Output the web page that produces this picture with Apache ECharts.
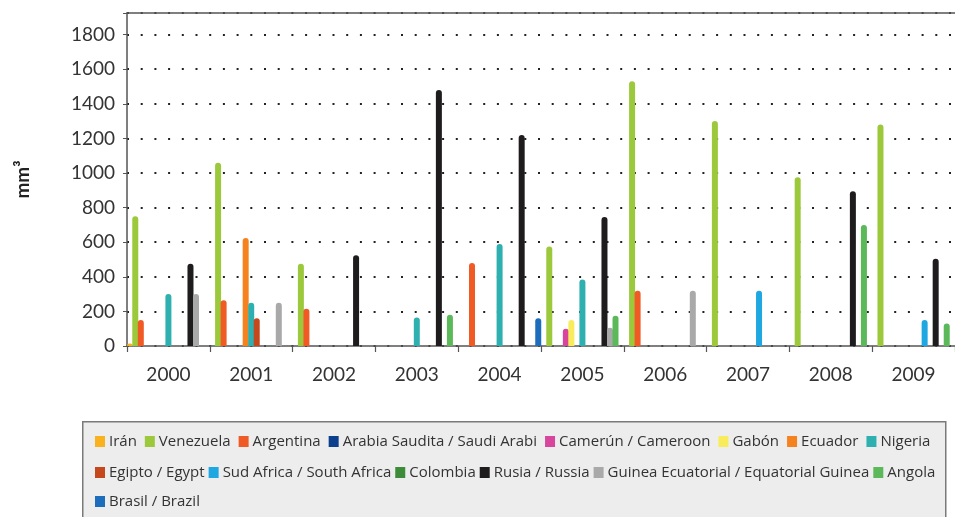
<!DOCTYPE html>
<html>
<head>
<meta charset="utf-8">
<script src="https://cdn.jsdelivr.net/npm/echarts@6/dist/echarts.min.js"></script>
<style>
  html, body { margin: 0; padding: 0; background: #ffffff; }
  #chart { width: 955px; height: 517px; }
</style>
</head>
<body>
<div id="chart"></div>
<script>
// Years on the category axis
const years = ['2000', '2001', '2002', '2003', '2004', '2005', '2006', '2007', '2008', '2009'];

// Volumes per country and year (mm³); null = no value that year
const iran       = [15, null, null, null, null, null, null, null, null, null];
const venezuela  = [750, 1060, 475, null, null, 575, 1530, 1300, 975, 1280];
const argentina  = [150, 265, 215, null, 480, null, 320, null, null, null];
const arabia     = [null, null, null, null, null, null, null, null, null, null];
const camerun    = [null, null, null, null, null, 100, null, null, null, null];
const gabon      = [null, null, null, null, null, 150, null, null, null, null];
const ecuador    = [null, 625, null, null, null, null, null, null, null, null];
const nigeria    = [300, 250, null, 165, 590, 385, null, null, null, null];
const egipto     = [null, 160, null, null, null, null, null, null, null, null];
const sudafrica  = [null, null, null, null, null, null, null, 320, null, 150];
const colombia   = [null, null, null, null, null, null, null, null, null, null];
const rusia      = [475, null, 525, 1480, 1220, 745, null, null, 895, 505];
const guinea     = [300, 250, null, null, null, 105, 320, null, null, null];
const angola     = [null, null, null, 180, null, 175, null, null, 700, 130];
const brasil     = [null, null, null, null, 160, null, null, null, null, null];

// Y axis tick labels
const yTicks = [0, 200, 400, 600, 800, 1000, 1200, 1400, 1600, 1800];

const seriesDefs = [
  { name: 'Irán', data: iran, color: '#f9b21d' },
  { name: 'Venezuela', data: venezuela, color: '#9cc93b' },
  { name: 'Argentina', data: argentina, color: '#f05a24' },
  { name: 'Arabia Saudita / Saudi Arabi', data: arabia, color: '#0d3f8f' },
  { name: 'Camerún / Cameroon', data: camerun, color: '#d8459c' },
  { name: 'Gabón', data: gabon, color: '#f8ec5a' },
  { name: 'Ecuador', data: ecuador, color: '#f5821f' },
  { name: 'Nigeria', data: nigeria, color: '#2fb0b0' },
  { name: 'Egipto / Egypt', data: egipto, color: '#c5471c' },
  { name: 'Sud Africa / South Africa', data: sudafrica, color: '#1ea7e0' },
  { name: 'Colombia', data: colombia, color: '#3c8c3a' },
  { name: 'Rusia / Russia', data: rusia, color: '#1e1c1d' },
  { name: 'Guinea Ecuatorial / Equatorial Guinea', data: guinea, color: '#a9a9a9' },
  { name: 'Angola', data: angola, color: '#5bb95a' },
  { name: 'Brasil / Brazil', data: brasil, color: '#1d6dbd' }
];

// Three legend rows inside the grey box
const legendRows = [
  { names: seriesDefs.slice(0, 8).map(s => s.name), top: 434, gap: 8 },
  { names: seriesDefs.slice(8, 14).map(s => s.name), top: 465, gap: 4 },
  { names: seriesDefs.slice(14).map(s => s.name), top: 494, gap: 4 }
];

const FONT = 'Lato, "Open Sans", sans-serif';
const LEGEND_FONT = '"Open Sans", Lato, sans-serif';
const chart = echarts.init(document.getElementById('chart'), null, { renderer: 'canvas' });

chart.setOption({
  animation: false,
  backgroundColor: '#ffffff',
  color: seriesDefs.map(s => s.color),
  textStyle: { fontFamily: FONT },
  grid: { left: 127, right: 0, top: 13, bottom: 171, containLabel: false },
  graphic: [{
    type: 'rect',
    left: 82, top: 421, z: -10,
    shape: { width: 863, height: 110 },
    style: { fill: '#ededed', stroke: '#7a7a7a', lineWidth: 1.5 }
  }],
  legend: legendRows.map(row => ({
    data: row.names,
    top: row.top,
    left: 95,
    padding: 0,
    itemGap: row.gap,
    itemWidth: 10,
    itemHeight: 11,
    icon: 'rect',
    selectedMode: false,
    textStyle: { fontFamily: LEGEND_FONT, fontSize: 15, color: '#333333', padding: [0, 0, 0, -1] }
  })),
  xAxis: [{
    type: 'category',
    data: years,
    axisLine: { lineStyle: { color: '#555555', width: 1.5 } },
    axisTick: { show: true, length: 6, lineStyle: { color: '#555555', width: 1.2 } },
    axisLabel: { fontFamily: FONT, fontSize: 19, color: '#333333', margin: 19 }
  }, {
    type: 'category',
    data: years,
    position: 'top',
    axisLine: { show: true, lineStyle: { color: '#555555', width: 1.5 } },
    axisTick: { show: false },
    axisLabel: { show: false }
  }],
  yAxis: {
    type: 'value',
    min: 0,
    max: 1925,
    interval: 200,
    name: 'mm³',
    nameLocation: 'middle',
    nameRotate: 90,
    nameGap: 95,
    nameTextStyle: { fontFamily: FONT, fontSize: 19, fontWeight: 'bold', color: '#222222' },
    axisLine: { show: true, lineStyle: { color: '#555555', width: 1.5 } },
    axisTick: { show: true, length: 4, lineStyle: { color: '#555555' } },
    axisLabel: {
      fontFamily: FONT, fontSize: 19, color: '#333333', margin: 12,
      formatter: v => (yTicks.indexOf(v) >= 0 ? String(v) : '')
    },
    splitLine: {
      show: true,
      lineStyle: { color: '#222222', width: 2, type: [2, 11.7] }
    }
  },
  series: seriesDefs.map(s => ({
    name: s.name,
    type: 'bar',
    data: s.data,
    barWidth: 6,
    barGap: '-8%',
    itemStyle: { color: s.color, borderRadius: [3, 3, 0, 0] }
  }))
});
</script>
</body>
</html>
